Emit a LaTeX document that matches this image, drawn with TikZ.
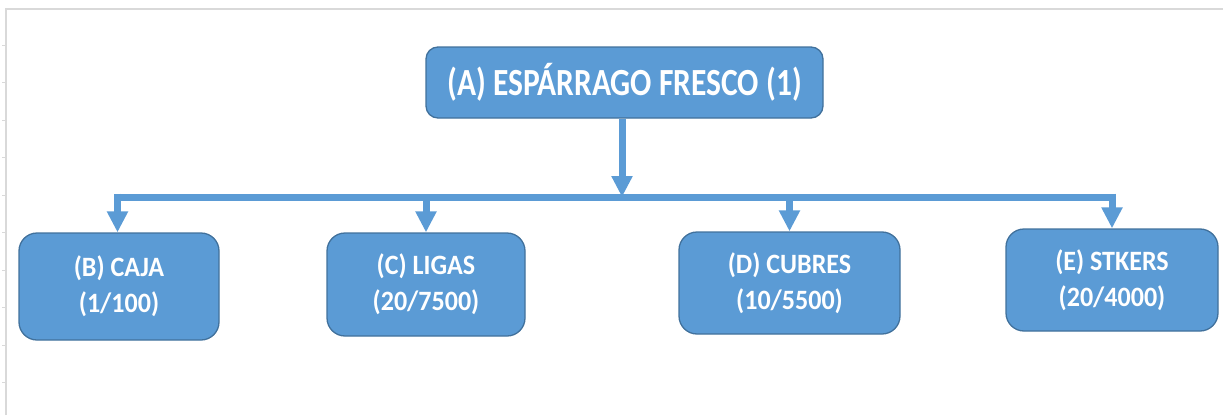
\documentclass[tikz,border=0pt]{standalone}
\usepackage{fontspec}
\setmainfont{Carlito}
\newfontfamily\titlefont[FakeStretch=0.82]{Carlito}
\newfontfamily\itemfont[FakeStretch=0.93]{Carlito}
\usepackage{tikz}
\usetikzlibrary{arrows.meta}

\definecolor{boxblue}{HTML}{5B9BD5}
\definecolor{boxedge}{HTML}{41719C}
\definecolor{framegray}{HTML}{D9D9D9}

\begin{document}
\begin{tikzpicture}[x=1pt, y=-1pt,
    item/.style={draw=boxedge, line width=1.3pt, fill=boxblue, rounded corners=18pt,
                 text=white, font=\itemfont\bfseries\fontsize{28}{36}\selectfont, align=center,
                 inner sep=0pt, minimum height=103pt},
    top/.style={item, rounded corners=12pt, font=\titlefont\bfseries\fontsize{38.4}{42}\selectfont,
                minimum width=397pt, minimum height=71pt},
    branch/.style={draw=boxblue, line width=7pt, -{Triangle[width=20pt, length=21pt]}},
    bar/.style={draw=boxblue, line width=7pt}]
    \useasboundingbox (0,0) rectangle (1223,415);

    % chart frame
    \draw[framegray, line width=1.5pt] (6,415) -- (6,9) -- (1223,9);
    \foreach \t in {45,82.5,120,157.5,195,232.5,270,307.5,345,382.5}
        \draw[framegray, line width=0.8pt] (2,\t) -- (6,\t);

    \node[top]                     (A) at (624.5,82.5) {(A) ESPÁRRAGO FRESCO (1)};
    \node[item, minimum width=200pt, minimum height=107pt] (B) at (119,286.5) {(B) CAJA\\(1/100)};
    \node[item, minimum width=198pt] (C) at (426,284.5) {(C) LIGAS\\(20/7500)};
    \node[item, minimum width=221pt, minimum height=102pt] (D) at (789.5,283) {(D) CUBRES\\(10/5500)};
    \node[item, minimum width=212pt, minimum height=102pt] (E) at (1112,280) {(E) STKERS\\(20/4000)};

    \coordinate (hub)   at (622,197);
    \coordinate (left)  at (117.5,197);
    \coordinate (right) at (1112,197);

    \path[branch] (A.south -| hub) -- (hub);
    \path[bar]    ([xshift=-3.5pt]left) -- ([xshift=3.5pt]right);
    \path[branch] ([yshift=3.5pt]left) -- (left |- B.north);
    \path[branch] (C.north |- hub) -- (C.north);
    \path[branch] (D.north |- hub) -- (D.north);
    \path[branch] ([yshift=3.5pt]right) -- (E.north);
\end{tikzpicture}
\end{document}
